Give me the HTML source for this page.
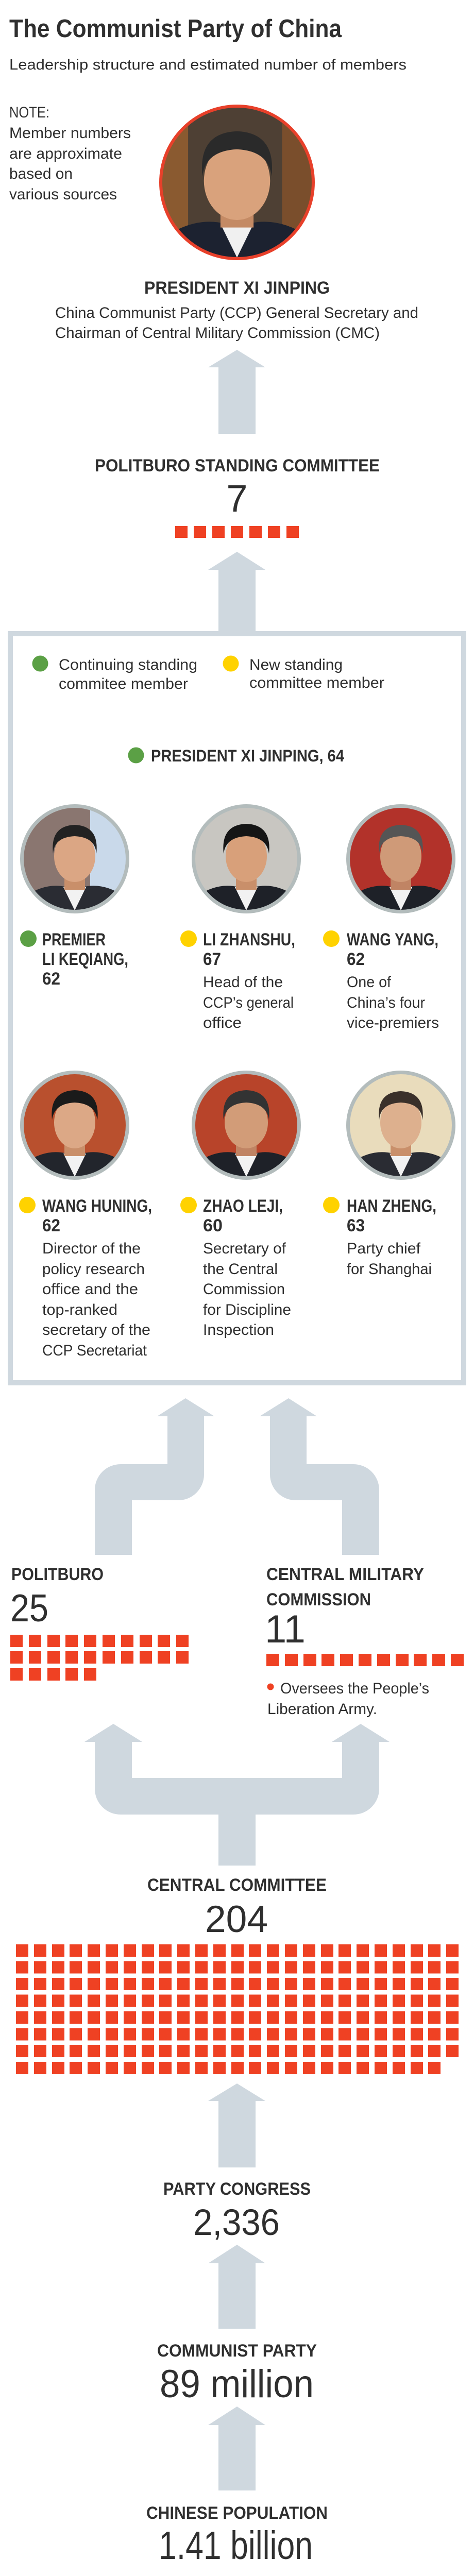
<!DOCTYPE html>
<html><head><meta charset="utf-8"><style>
html,body{margin:0;padding:0;background:#fff;width:920px;height:5226px;overflow:hidden;}
#wrap{position:absolute;left:0;top:0;width:920px;height:5226px;overflow:hidden;}
svg{display:block;position:absolute;left:0;top:0;width:920px;height:5226px;}
text{font-family:"Liberation Sans",sans-serif;fill:#2f2f2f;}
.b{font-weight:bold;}
</style></head><body><div id="wrap">
<svg width="920" height="5226" viewBox="0 0 920 5226" preserveAspectRatio="none" xmlns="http://www.w3.org/2000/svg">
<defs>
<clipPath id="cu" clipPathUnits="userSpaceOnUse"><circle cx="0" cy="0" r="100"/></clipPath>
<g id="row25">
<rect x="31" y="0" width="24" height="24"/><rect x="66" y="0" width="24" height="24"/><rect x="101" y="0" width="24" height="24"/><rect x="135" y="0" width="24" height="24"/><rect x="170" y="0" width="24" height="24"/><rect x="205" y="0" width="24" height="24"/><rect x="240" y="0" width="24" height="24"/><rect x="275" y="0" width="24" height="24"/><rect x="309" y="0" width="24" height="24"/><rect x="344" y="0" width="24" height="24"/><rect x="379" y="0" width="24" height="24"/><rect x="414" y="0" width="24" height="24"/><rect x="449" y="0" width="24" height="24"/><rect x="483" y="0" width="24" height="24"/><rect x="518" y="0" width="24" height="24"/><rect x="553" y="0" width="24" height="24"/><rect x="588" y="0" width="24" height="24"/><rect x="623" y="0" width="24" height="24"/><rect x="657" y="0" width="24" height="24"/><rect x="692" y="0" width="24" height="24"/><rect x="727" y="0" width="24" height="24"/><rect x="762" y="0" width="24" height="24"/><rect x="797" y="0" width="24" height="24"/><rect x="831" y="0" width="24" height="24"/>
</g>
</defs>
<rect width="920" height="5226" fill="#fff"/>

<text x="18" y="72" class="b" font-size="49" textLength="645" lengthAdjust="spacingAndGlyphs">The Communist Party of China</text>
<text x="18" y="135" font-size="29" textLength="771" lengthAdjust="spacingAndGlyphs">Leadership structure and estimated number of members</text>

<text x="18" y="228" font-size="30" textLength="78" lengthAdjust="spacingAndGlyphs">NOTE:</text>
<text x="18" y="268" font-size="30" textLength="236" lengthAdjust="spacingAndGlyphs">Member numbers</text>
<text x="18" y="308" font-size="30" textLength="219" lengthAdjust="spacingAndGlyphs">are approximate</text>
<text x="18" y="347" font-size="30" textLength="123" lengthAdjust="spacingAndGlyphs">based on</text>
<text x="18" y="387" font-size="30" textLength="209" lengthAdjust="spacingAndGlyphs">various sources</text>

<g transform="translate(460,354) scale(1.46)"><g clip-path="url(#cu)">
<rect x="-100" y="-100" width="200" height="200" fill="#4e4034"/>
<rect x="-100" y="-100" width="35" height="200" fill="#8a5a30"/>
<rect x="60" y="-100" width="40" height="200" fill="#7a4e2c"/>
<path d="M-100,100 L-95,72 Q-55,45 -15,55 L0,100 Z M100,100 L95,72 Q55,45 15,55 L0,100 Z" fill="#1c2230"/>
<path d="M-22,55 L0,100 L22,55 Z" fill="#f0f0f0"/>
<rect x="-22" y="28" width="44" height="32" fill="#c48a64"/>
<ellipse cx="0" cy="-2" rx="44" ry="52" fill="#d9a27c"/>
<path d="M-46,-8 Q-52,-66 0,-68 Q52,-66 46,-8 Q42,-42 0,-44 Q-42,-42 -46,-8 Z" fill="#2a2a2a"/>
</g></g>
<circle cx="460" cy="354" r="148" fill="none" stroke="#e8402a" stroke-width="6"/>

<text x="280" y="570" class="b" font-size="34" textLength="360" lengthAdjust="spacingAndGlyphs">PRESIDENT XI JINPING</text>
<text x="107" y="617" font-size="30" textLength="705" lengthAdjust="spacingAndGlyphs">China Communist Party (CCP) General Secretary and</text>
<text x="107" y="656" font-size="30" textLength="630" lengthAdjust="spacingAndGlyphs">Chairman of Central Military Commission (CMC)</text>

<g fill="#cfd8df">
<polygon points="404,713 460,679 515,713 496,713 496,842 424,842 424,713"/>
<polygon points="404,1106 460,1071 515,1106 496,1106 496,1230 424,1230 424,1106"/>
</g>

<text x="184" y="915" class="b" font-size="34" textLength="553" lengthAdjust="spacingAndGlyphs">POLITBURO STANDING COMMITTEE</text>
<text x="460" y="993" font-size="74" text-anchor="middle">7</text>
<g fill="#ef4123">
<rect x="340" y="1021" width="24" height="23"/><rect x="376" y="1021" width="24" height="23"/><rect x="412" y="1021" width="24" height="23"/><rect x="448" y="1021" width="24" height="23"/><rect x="484" y="1021" width="24" height="23"/><rect x="520" y="1021" width="24" height="23"/><rect x="556" y="1021" width="24" height="23"/>
</g>

<rect x="20" y="1230" width="880" height="1454" fill="none" stroke="#cfd8df" stroke-width="10"/>

<circle cx="78" cy="1288" r="15.5" fill="#5ba045"/>
<text x="114" y="1300" font-size="30" textLength="269" lengthAdjust="spacingAndGlyphs">Continuing standing</text>
<text x="114" y="1337" font-size="30" textLength="251" lengthAdjust="spacingAndGlyphs">commitee member</text>
<circle cx="448" cy="1288" r="15.5" fill="#ffd200"/>
<text x="484" y="1300" font-size="30" textLength="181" lengthAdjust="spacingAndGlyphs">New standing</text>
<text x="484" y="1335" font-size="30" textLength="262" lengthAdjust="spacingAndGlyphs">committee member</text>

<circle cx="264" cy="1466" r="15.5" fill="#5ba045"/>
<text x="293" y="1478" class="b" font-size="32" textLength="375" lengthAdjust="spacingAndGlyphs">PRESIDENT XI JINPING, 64</text>

<g transform="translate(145,1667)"><g clip-path="url(#cu)">
<rect x="-100" y="-100" width="200" height="200" fill="#8a7670"/>
<rect x="30" y="-100" width="70" height="200" fill="#c9d9ea"/>
<path d="M-100,100 L-95,72 Q-55,45 -15,55 L0,100 Z M100,100 L95,72 Q55,45 15,55 L0,100 Z" fill="#2a2c33"/>
<path d="M-22,55 L0,100 L22,55 Z" fill="#f2f2f2"/>
<rect x="-20" y="28" width="40" height="32" fill="#c98f6a"/>
<ellipse cx="0" cy="-5" rx="40" ry="50" fill="#dba684"/>
<path d="M-42,-10 Q-48,-64 0,-66 Q48,-64 42,-10 Q40,-42 0,-44 Q-40,-42 -42,-10 Z" fill="#222"/>
</g></g>
<circle cx="145" cy="1667" r="102.5" fill="none" stroke="#b3bcbc" stroke-width="7"/>

<g transform="translate(478,1667)"><g clip-path="url(#cu)">
<rect x="-100" y="-100" width="200" height="200" fill="#c8c6c1"/>
<path d="M-100,100 L-95,72 Q-55,45 -15,55 L0,100 Z M100,100 L95,72 Q55,45 15,55 L0,100 Z" fill="#1e2128"/>
<path d="M-22,55 L0,100 L22,55 Z" fill="#f2f2f2"/>
<rect x="-20" y="28" width="40" height="32" fill="#c98f6a"/>
<ellipse cx="0" cy="-5" rx="40" ry="50" fill="#d8a07a"/>
<path d="M-44,-10 Q-50,-66 0,-68 Q50,-66 44,-10 Q40,-42 0,-44 Q-40,-42 -44,-10 Z" fill="#151515"/>
</g></g>
<circle cx="478" cy="1667" r="102.5" fill="none" stroke="#b3bcbc" stroke-width="7"/>

<g transform="translate(778,1667)"><g clip-path="url(#cu)">
<rect x="-100" y="-100" width="200" height="200" fill="#b2322a"/>
<path d="M-100,100 L-95,72 Q-55,45 -15,55 L0,100 Z M100,100 L95,72 Q55,45 15,55 L0,100 Z" fill="#1e2128"/>
<path d="M-22,55 L0,100 L22,55 Z" fill="#f2f2f2"/>
<rect x="-20" y="28" width="40" height="32" fill="#c08464"/>
<ellipse cx="0" cy="-5" rx="40" ry="50" fill="#cf9a78"/>
<path d="M-42,-10 Q-48,-64 0,-66 Q48,-64 42,-10 Q40,-42 0,-44 Q-40,-42 -42,-10 Z" fill="#555"/>
</g></g>
<circle cx="778" cy="1667" r="102.5" fill="none" stroke="#b3bcbc" stroke-width="7"/>

<circle cx="55" cy="1822" r="16" fill="#5ba045"/>
<text x="82" y="1835" class="b" font-size="34" textLength="123" lengthAdjust="spacingAndGlyphs">PREMIER</text>
<text x="82" y="1873" class="b" font-size="34" textLength="167" lengthAdjust="spacingAndGlyphs">LI KEQIANG,</text>
<text x="82" y="1911" class="b" font-size="34" textLength="35" lengthAdjust="spacingAndGlyphs">62</text>

<circle cx="366" cy="1822" r="16" fill="#ffd200"/>
<text x="394" y="1835" class="b" font-size="34" textLength="179" lengthAdjust="spacingAndGlyphs">LI ZHANSHU,</text>
<text x="394" y="1873" class="b" font-size="34" textLength="35" lengthAdjust="spacingAndGlyphs">67</text>
<text x="394" y="1916" font-size="30" textLength="155" lengthAdjust="spacingAndGlyphs">Head of the</text>
<text x="394" y="1956" font-size="30" textLength="176" lengthAdjust="spacingAndGlyphs">CCP’s general</text>
<text x="394" y="1995" font-size="30" textLength="75" lengthAdjust="spacingAndGlyphs">office</text>

<circle cx="643" cy="1822" r="16" fill="#ffd200"/>
<text x="673" y="1835" class="b" font-size="34" textLength="178" lengthAdjust="spacingAndGlyphs">WANG YANG,</text>
<text x="673" y="1873" class="b" font-size="34" textLength="35" lengthAdjust="spacingAndGlyphs">62</text>
<text x="673" y="1916" font-size="30" textLength="86" lengthAdjust="spacingAndGlyphs">One of</text>
<text x="673" y="1956" font-size="30" textLength="152" lengthAdjust="spacingAndGlyphs">China’s four</text>
<text x="673" y="1995" font-size="30" textLength="179" lengthAdjust="spacingAndGlyphs">vice-premiers</text>

<g transform="translate(145,2184)"><g clip-path="url(#cu)">
<rect x="-100" y="-100" width="200" height="200" fill="#b9502e"/>
<path d="M-100,100 L-95,72 Q-55,45 -15,55 L0,100 Z M100,100 L95,72 Q55,45 15,55 L0,100 Z" fill="#22252c"/>
<path d="M-22,55 L0,100 L22,55 Z" fill="#f2f2f2"/>
<rect x="-20" y="28" width="40" height="32" fill="#c98f6a"/>
<ellipse cx="0" cy="-5" rx="40" ry="50" fill="#dca886"/>
<path d="M-44,-10 Q-50,-66 0,-68 Q50,-66 44,-10 Q40,-42 0,-44 Q-40,-42 -44,-10 Z" fill="#1a1a1a"/>
</g></g>
<circle cx="145" cy="2184" r="102.5" fill="none" stroke="#b3bcbc" stroke-width="7"/>

<g transform="translate(478,2184)"><g clip-path="url(#cu)">
<rect x="-100" y="-100" width="200" height="200" fill="#b8442a"/>
<path d="M-100,100 L-95,72 Q-55,45 -15,55 L0,100 Z M100,100 L95,72 Q55,45 15,55 L0,100 Z" fill="#1e2128"/>
<path d="M-22,55 L0,100 L22,55 Z" fill="#f2f2f2"/>
<rect x="-20" y="28" width="40" height="32" fill="#c08464"/>
<ellipse cx="0" cy="-5" rx="42" ry="50" fill="#d29c78"/>
<path d="M-44,-10 Q-50,-66 0,-68 Q50,-66 44,-10 Q40,-42 0,-44 Q-40,-42 -44,-10 Z" fill="#333"/>
</g></g>
<circle cx="478" cy="2184" r="102.5" fill="none" stroke="#b3bcbc" stroke-width="7"/>

<g transform="translate(778,2184)"><g clip-path="url(#cu)">
<rect x="-100" y="-100" width="200" height="200" fill="#e9dcbc"/>
<path d="M-100,100 L-95,72 Q-55,45 -15,55 L0,100 Z M100,100 L95,72 Q55,45 15,55 L0,100 Z" fill="#2a2c33"/>
<path d="M-22,55 L0,100 L22,55 Z" fill="#f2f2f2"/>
<rect x="-20" y="28" width="40" height="32" fill="#c98f6a"/>
<ellipse cx="0" cy="-5" rx="40" ry="50" fill="#ddb08e"/>
<path d="M-42,-10 Q-48,-64 0,-66 Q48,-64 42,-10 Q40,-42 0,-44 Q-40,-42 -42,-10 Z" fill="#3a302a"/>
</g></g>
<circle cx="778" cy="2184" r="102.5" fill="none" stroke="#b3bcbc" stroke-width="7"/>

<circle cx="53" cy="2339" r="16" fill="#ffd200"/>
<text x="82" y="2352" class="b" font-size="34" textLength="213" lengthAdjust="spacingAndGlyphs">WANG HUNING,</text>
<text x="82" y="2390" class="b" font-size="34" textLength="35" lengthAdjust="spacingAndGlyphs">62</text>
<text x="82" y="2433" font-size="30" textLength="191" lengthAdjust="spacingAndGlyphs">Director of the</text>
<text x="82" y="2473" font-size="30" textLength="199" lengthAdjust="spacingAndGlyphs">policy research</text>
<text x="82" y="2512" font-size="30" textLength="186" lengthAdjust="spacingAndGlyphs">office and the</text>
<text x="82" y="2552" font-size="30" textLength="146" lengthAdjust="spacingAndGlyphs">top-ranked</text>
<text x="82" y="2591" font-size="30" textLength="210" lengthAdjust="spacingAndGlyphs">secretary of the</text>
<text x="82" y="2631" font-size="30" textLength="203" lengthAdjust="spacingAndGlyphs">CCP Secretariat</text>

<circle cx="366" cy="2339" r="16" fill="#ffd200"/>
<text x="394" y="2352" class="b" font-size="34" textLength="155" lengthAdjust="spacingAndGlyphs">ZHAO LEJI,</text>
<text x="394" y="2390" class="b" font-size="34" textLength="38" lengthAdjust="spacingAndGlyphs">60</text>
<text x="394" y="2433" font-size="30" textLength="161" lengthAdjust="spacingAndGlyphs">Secretary of</text>
<text x="394" y="2473" font-size="30" textLength="145" lengthAdjust="spacingAndGlyphs">the Central</text>
<text x="394" y="2512" font-size="30" textLength="159" lengthAdjust="spacingAndGlyphs">Commission</text>
<text x="394" y="2552" font-size="30" textLength="171" lengthAdjust="spacingAndGlyphs">for Discipline</text>
<text x="394" y="2591" font-size="30" textLength="138" lengthAdjust="spacingAndGlyphs">Inspection</text>

<circle cx="643" cy="2339" r="16" fill="#ffd200"/>
<text x="673" y="2352" class="b" font-size="34" textLength="174" lengthAdjust="spacingAndGlyphs">HAN ZHENG,</text>
<text x="673" y="2390" class="b" font-size="34" textLength="35" lengthAdjust="spacingAndGlyphs">63</text>
<text x="673" y="2433" font-size="30" textLength="143" lengthAdjust="spacingAndGlyphs">Party chief</text>
<text x="673" y="2473" font-size="30" textLength="165" lengthAdjust="spacingAndGlyphs">for Shanghai</text>

<g fill="#cfd8df">
<path d="M184,3018 L184,2892 A50,50 0 0 1 234,2842 L325,2842 L325,2749 L305,2749 L360,2714 L416,2749 L396,2749 L396,2862 A50,50 0 0 1 346,2912 L256,2912 L256,3018 Z"/>
<path d="M736,3018 L736,2892 A50,50 0 0 0 686,2842 L595,2842 L595,2749 L615,2749 L560,2714 L504,2749 L524,2749 L524,2862 A50,50 0 0 0 574,2912 L664,2912 L664,3018 Z"/>
<path d="M184,3381 L164,3381 L220,3346 L276,3381 L256,3381 L256,3451 L664,3451 L664,3381 L644,3381 L700,3346 L756,3381 L736,3381 L736,3472 A50,50 0 0 1 686,3522 L496,3522 L496,3621 L424,3621 L424,3522 L234,3522 A50,50 0 0 1 184,3472 Z"/>
</g>

<text x="22" y="3067" class="b" font-size="34" textLength="179" lengthAdjust="spacingAndGlyphs">POLITBURO</text>
<text x="20" y="3147" font-size="75" textLength="74" lengthAdjust="spacingAndGlyphs">25</text>
<g fill="#ef4123">
<rect x="20" y="3173" width="24" height="24"/><rect x="56" y="3173" width="24" height="24"/><rect x="92" y="3173" width="24" height="24"/><rect x="127" y="3173" width="24" height="24"/><rect x="163" y="3173" width="24" height="24"/><rect x="199" y="3173" width="24" height="24"/><rect x="235" y="3173" width="24" height="24"/><rect x="271" y="3173" width="24" height="24"/><rect x="306" y="3173" width="24" height="24"/><rect x="342" y="3173" width="24" height="24"/>
<rect x="20" y="3205" width="24" height="24"/><rect x="56" y="3205" width="24" height="24"/><rect x="92" y="3205" width="24" height="24"/><rect x="127" y="3205" width="24" height="24"/><rect x="163" y="3205" width="24" height="24"/><rect x="199" y="3205" width="24" height="24"/><rect x="235" y="3205" width="24" height="24"/><rect x="271" y="3205" width="24" height="24"/><rect x="306" y="3205" width="24" height="24"/><rect x="342" y="3205" width="24" height="24"/>
<rect x="20" y="3238" width="24" height="24"/><rect x="56" y="3238" width="24" height="24"/><rect x="92" y="3238" width="24" height="24"/><rect x="127" y="3238" width="24" height="24"/><rect x="163" y="3238" width="24" height="24"/>
</g>

<text x="517" y="3067" class="b" font-size="34" textLength="306" lengthAdjust="spacingAndGlyphs">CENTRAL MILITARY</text>
<text x="517" y="3116" class="b" font-size="34" textLength="203" lengthAdjust="spacingAndGlyphs">COMMISSION</text>
<text x="514" y="3188" font-size="76">11</text>
<g fill="#ef4123">
<rect x="517" y="3210" width="25" height="24"/><rect x="553" y="3210" width="25" height="24"/><rect x="589" y="3210" width="25" height="24"/><rect x="624" y="3210" width="25" height="24"/><rect x="660" y="3210" width="25" height="24"/><rect x="696" y="3210" width="25" height="24"/><rect x="732" y="3210" width="25" height="24"/><rect x="768" y="3210" width="25" height="24"/><rect x="803" y="3210" width="25" height="24"/><rect x="839" y="3210" width="25" height="24"/><rect x="875" y="3210" width="25" height="24"/>
</g>
<circle cx="525" cy="3274" r="6.5" fill="#ef4123"/>
<text x="544" y="3287" font-size="30" textLength="289" lengthAdjust="spacingAndGlyphs">Oversees the People’s</text>
<text x="519" y="3327" font-size="30" textLength="213" lengthAdjust="spacingAndGlyphs">Liberation Army.</text>

<text x="286" y="3670" class="b" font-size="34" textLength="348" lengthAdjust="spacingAndGlyphs">CENTRAL COMMITTEE</text>
<text x="398" y="3750" font-size="73" textLength="122" lengthAdjust="spacingAndGlyphs">204</text>
<g fill="#ef4123">
<use href="#row25" y="3774"/><rect x="866" y="3774" width="24" height="24"/>
<use href="#row25" y="3806.5"/><rect x="866" y="3806.5" width="24" height="24"/>
<use href="#row25" y="3839"/><rect x="866" y="3839" width="24" height="24"/>
<use href="#row25" y="3871.5"/><rect x="866" y="3871.5" width="24" height="24"/>
<use href="#row25" y="3904"/><rect x="866" y="3904" width="24" height="24"/>
<use href="#row25" y="3936.5"/><rect x="866" y="3936.5" width="24" height="24"/>
<use href="#row25" y="3969"/><rect x="866" y="3969" width="24" height="24"/>
<use href="#row25" y="4002"/>
</g>

<g fill="#cfd8df">
<polygon points="404,4078 460,4044 515,4078 496,4078 496,4207 424,4207 424,4078"/>
<polygon points="404,4393 460,4357 515,4393 496,4393 496,4520 424,4520 424,4393"/>
<polygon points="404,4707 460,4671 515,4707 496,4707 496,4834 424,4834 424,4707"/>
</g>

<text x="317" y="4260" class="b" font-size="34" textLength="286" lengthAdjust="spacingAndGlyphs">PARTY CONGRESS</text>
<text x="375" y="4338" font-size="71" textLength="168" lengthAdjust="spacingAndGlyphs">2,336</text>
<text x="305" y="4574" class="b" font-size="34" textLength="310" lengthAdjust="spacingAndGlyphs">COMMUNIST PARTY</text>
<text x="310" y="4653" font-size="76" textLength="299" lengthAdjust="spacingAndGlyphs">89 million</text>
<text x="284" y="4889" class="b" font-size="34" textLength="352" lengthAdjust="spacingAndGlyphs">CHINESE POPULATION</text>
<text x="308" y="4967" font-size="77" textLength="299" lengthAdjust="spacingAndGlyphs">1.41 billion</text>

<text x="17" y="5075" font-size="31" textLength="629" lengthAdjust="spacingAndGlyphs">Sources: AGENCE FRANCE-PRESSE, BBC, CNBC</text>
<text x="17" y="5121" font-size="31" textLength="799" lengthAdjust="spacingAndGlyphs">PHOTOS: AGENCE FRANCE-PRESSE, BLOOMBERG, REUTERS</text>
<text x="17" y="5167" font-size="31" textLength="346" lengthAdjust="spacingAndGlyphs">STRAITS TIMES GRAPHICS</text>
</svg>
</div></body></html>
